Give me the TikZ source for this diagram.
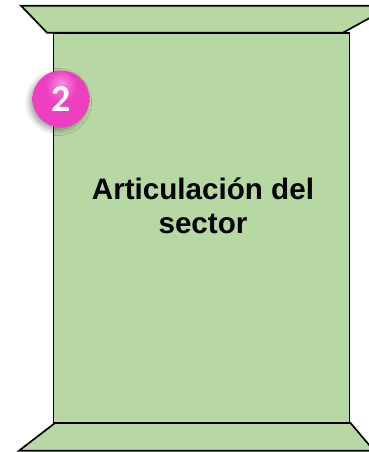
\documentclass[tikz,border=0pt]{standalone}
\usepackage{fontspec}
\setmainfont{Liberation Sans}
\newfontfamily\badgefont{Carlito}
\usetikzlibrary{shadows.blur}
\definecolor{boxgreen}{HTML}{B7D8A2}
\definecolor{pinkmain}{HTML}{EE3FC0}
\definecolor{pinklight}{HTML}{F98BE3}
\definecolor{pinkdark}{HTML}{D12FA6}
\pgfdeclareradialshading{pinkball}{\pgfpoint{0bp}{14bp}}{%
  color(0bp)=(pinklight); color(14bp)=(pinkmain); color(40bp)=(pinkmain); color(58bp)=(pinkdark); color(70bp)=(pinkdark)}
\tikzset{
  panel/.style={draw=black, line width=1.7pt, fill=boxgreen, line join=miter},
  badge/.style={circle, minimum size=57pt, inner sep=0pt,
    shading=pinkball,
    blur shadow={shadow xshift=-3pt, shadow yshift=-3pt, shadow blur radius=5pt, shadow opacity=35},
    text=white, font=\badgefont\bfseries\fontsize{38}{38}\selectfont},
  title/.style={align=center, font=\bfseries\fontsize{29.6}{34}\selectfont}
}
\begin{document}
\begin{tikzpicture}[x=1pt,y=1pt]
\useasboundingbox (0,0) rectangle (369,452);
\begin{scope}
\clip (0,0) rectangle (369,452);
% main body
\draw[panel] (53.5,419.3) rectangle (349.5,29.3);
% top trapezoid
\draw[panel] (21,446.3) -- (392,446.3) -- (343,419.3) -- (47,419.3) -- cycle;
% bottom trapezoid
\draw[panel] (55,29) -- (350.5,29) -- (374,1.3) -- (19,1.3) -- cycle;
\end{scope}
\node[title] (t) at (203,246) {Articulación del\\sector};
\node[badge] (b) at (61,353) {2};
\end{tikzpicture}
\end{document}
